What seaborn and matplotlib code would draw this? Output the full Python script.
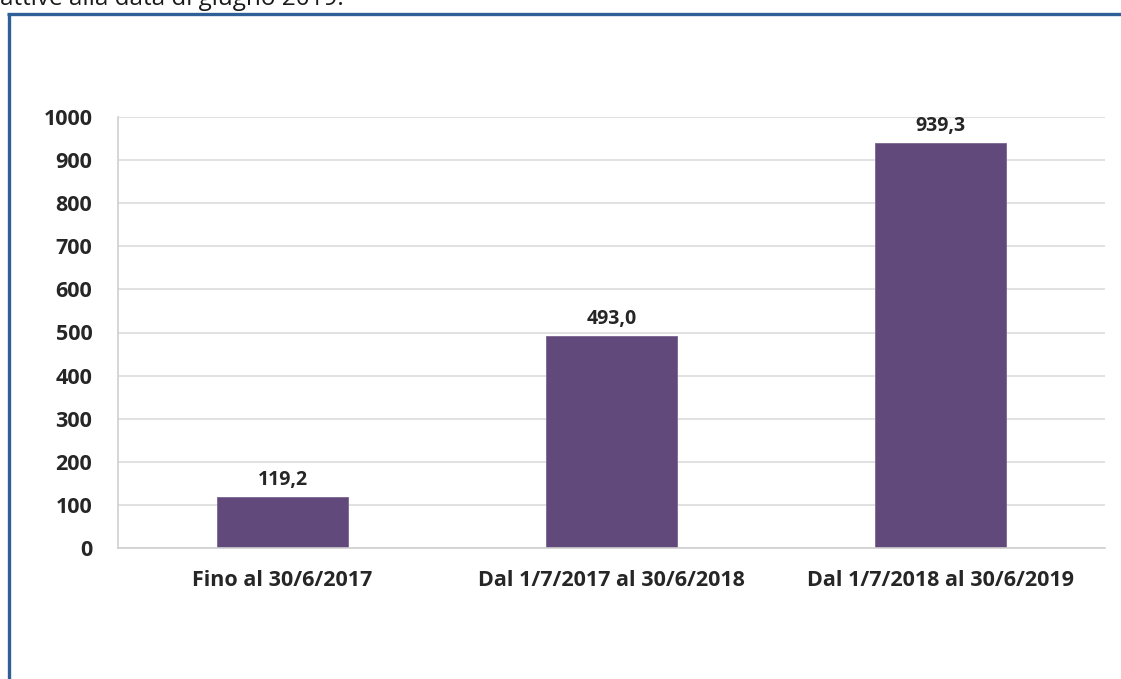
import matplotlib
matplotlib.use("Agg")
import matplotlib.pyplot as plt
from matplotlib.lines import Line2D
import seaborn as sns
import pandas as pd

# Data
periods = ["Fino al 30/6/2017", "Dal 1/7/2017 al 30/6/2018", "Dal 1/7/2018 al 30/6/2019"]
values = [119.2, 493.0, 939.3]
value_labels = ["119,2", "493,0", "939,3"]
y_ticks = [0, 100, 200, 300, 400, 500, 600, 700, 800, 900, 1000]

sns.set_theme(style="white")
plt.rcParams["font.family"] = ["Open Sans", "DejaVu Sans"]

df = pd.DataFrame({"periodo": periods, "valore": values})

fig = plt.figure(figsize=(11.21, 6.79), dpi=100)
ax = fig.add_axes([118 / 1121, 1 - 548 / 679, (1105 - 118) / 1121, (548 - 117) / 679])

sns.barplot(data=df, x="periodo", y="valore", color="#614A7B", width=0.4,
            saturation=1, ax=ax, edgecolor="#7A6591", linewidth=0.6)

ax.set_xlim(-0.5, 2.5)
ax.set_ylim(0, 1000)
ax.set_yticks(y_ticks)
ax.set_yticklabels([str(t) for t in y_ticks])
ax.set_xlabel("")
ax.set_ylabel("")
ax.yaxis.grid(True, color="#DCDCDC", linewidth=1.2)
ax.set_axisbelow(True)
for side in ["top", "right"]:
    ax.spines[side].set_visible(False)
for side in ["left", "bottom"]:
    ax.spines[side].set_color("#D0D0D0")
    ax.spines[side].set_linewidth(1.2)
ax.tick_params(axis="y", length=0, pad=18.5, labelsize=15.5, labelcolor="#262626")
ax.tick_params(axis="x", length=0, pad=16, labelsize=15.5, labelcolor="#262626")
for lab in ax.get_yticklabels() + ax.get_xticklabels():
    lab.set_fontweight("bold")

for container in ax.containers:
    ax.bar_label(container, labels=value_labels, padding=5, fontsize=14,
                 fontweight="bold", color="#262626")

# Blue frame around the chart area
frame_color = "#2F5F97"
fig.add_artist(Line2D([8.5 / 1121, 8.5 / 1121], [0, 1 - 14 / 679],
                      transform=fig.transFigure, color=frame_color, lw=2.4,
                      solid_capstyle="butt"))
fig.add_artist(Line2D([7.3 / 1121, 1], [1 - 14 / 679, 1 - 14 / 679],
                      transform=fig.transFigure, color=frame_color, lw=2.4,
                      solid_capstyle="butt"))

# Running text above the frame
fig.text(0.0, 1 - 5 / 679, "attive alla data di giugno 2019.", fontsize=17.5,
         color="#1A1A1A", ha="left", va="baseline")

fig.savefig("out.png", dpi=100, facecolor="white")
